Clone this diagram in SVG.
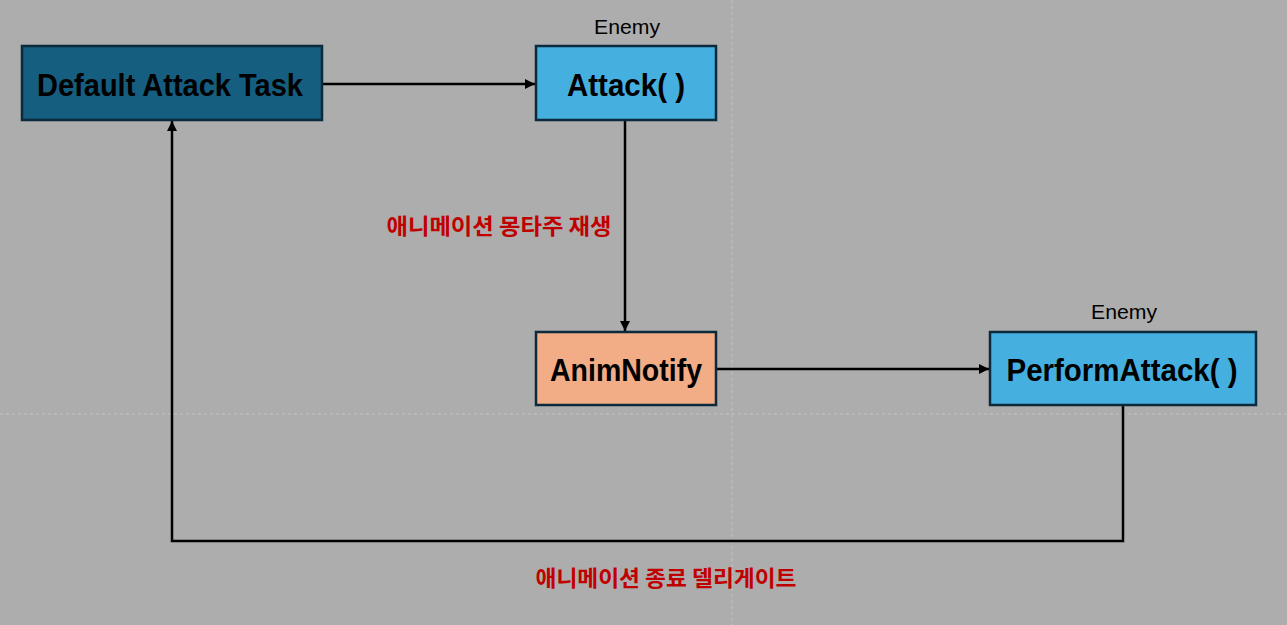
<svg xmlns="http://www.w3.org/2000/svg" width="1287" height="625" viewBox="0 0 1287 625">
<defs>
<marker id="ah" viewBox="0 0 10 10" refX="10" refY="5" markerWidth="10" markerHeight="10" markerUnits="userSpaceOnUse" orient="auto">
<path d="M0,0 L10,5 L0,10 z" fill="#000"/>
</marker>
<style>
.box{stroke:#0B2B3C;stroke-width:2.5}
.t{font-family:"Liberation Sans","DejaVu Sans",sans-serif;font-weight:bold;fill:#000;text-anchor:middle}
.en{font-family:"Liberation Sans","DejaVu Sans",sans-serif;font-size:20px;fill:#000;text-anchor:middle}
.lbl{font-family:"Noto Sans CJK KR","Noto Sans",sans-serif;font-weight:bold;font-size:22px;fill:#C00000;text-anchor:middle}
.c{fill:none;stroke:#000;stroke-width:2.5}
.g{stroke:#C4C4C4;stroke-width:1;stroke-dasharray:3 3}
</style>
</defs>
<rect width="1287" height="625" fill="#ADADAD"/>
<line class="g" x1="0" y1="414" x2="1287" y2="414"/>
<line class="g" x1="732" y1="0" x2="732" y2="625"/>
<g id="connectors">
<line class="c" x1="322" y1="84" x2="535" y2="84" marker-end="url(#ah)"/>
<line class="c" x1="625" y1="120" x2="625" y2="331" marker-end="url(#ah)"/>
<line class="c" x1="716" y1="369" x2="989" y2="369" marker-end="url(#ah)"/>
<polyline class="c" points="1123,405 1123,541 172,541 172,121" marker-end="url(#ah)"/>
</g>
<g id="default-attack-task">
<rect class="box" x="22" y="46" width="300" height="74" fill="#155E7F"/>
<text class="t" x="170" y="96" font-size="32" textLength="266" lengthAdjust="spacingAndGlyphs">Default Attack Task</text>
</g>
<g id="attack">
<text class="en" x="627" y="34" textLength="66" lengthAdjust="spacingAndGlyphs">Enemy</text>
<rect class="box" x="536" y="46" width="180" height="74" fill="#45B0E0"/>
<text class="t" x="626" y="96" font-size="32" textLength="118" lengthAdjust="spacingAndGlyphs">Attack( )</text>
</g>
<g id="animnotify">
<rect class="box" x="536" y="332" width="180" height="73" fill="#F2AC86"/>
<text class="t" x="626" y="381" font-size="32" textLength="152" lengthAdjust="spacingAndGlyphs">AnimNotify</text>
</g>
<g id="performattack">
<text class="en" x="1124" y="319" textLength="66" lengthAdjust="spacingAndGlyphs">Enemy</text>
<rect class="box" x="990" y="332" width="266" height="73" fill="#45B0E0"/>
<text class="t" x="1122" y="381" font-size="32" textLength="231" lengthAdjust="spacingAndGlyphs">PerformAttack( )</text>
</g>
<g id="labels">
<text class="lbl" x="499" y="234" textLength="225" lengthAdjust="spacingAndGlyphs">애니메이션 몽타주 재생</text>
<text class="lbl" x="666" y="586" textLength="261" lengthAdjust="spacingAndGlyphs">애니메이션 종료 델리게이트</text>
</g>
</svg>
